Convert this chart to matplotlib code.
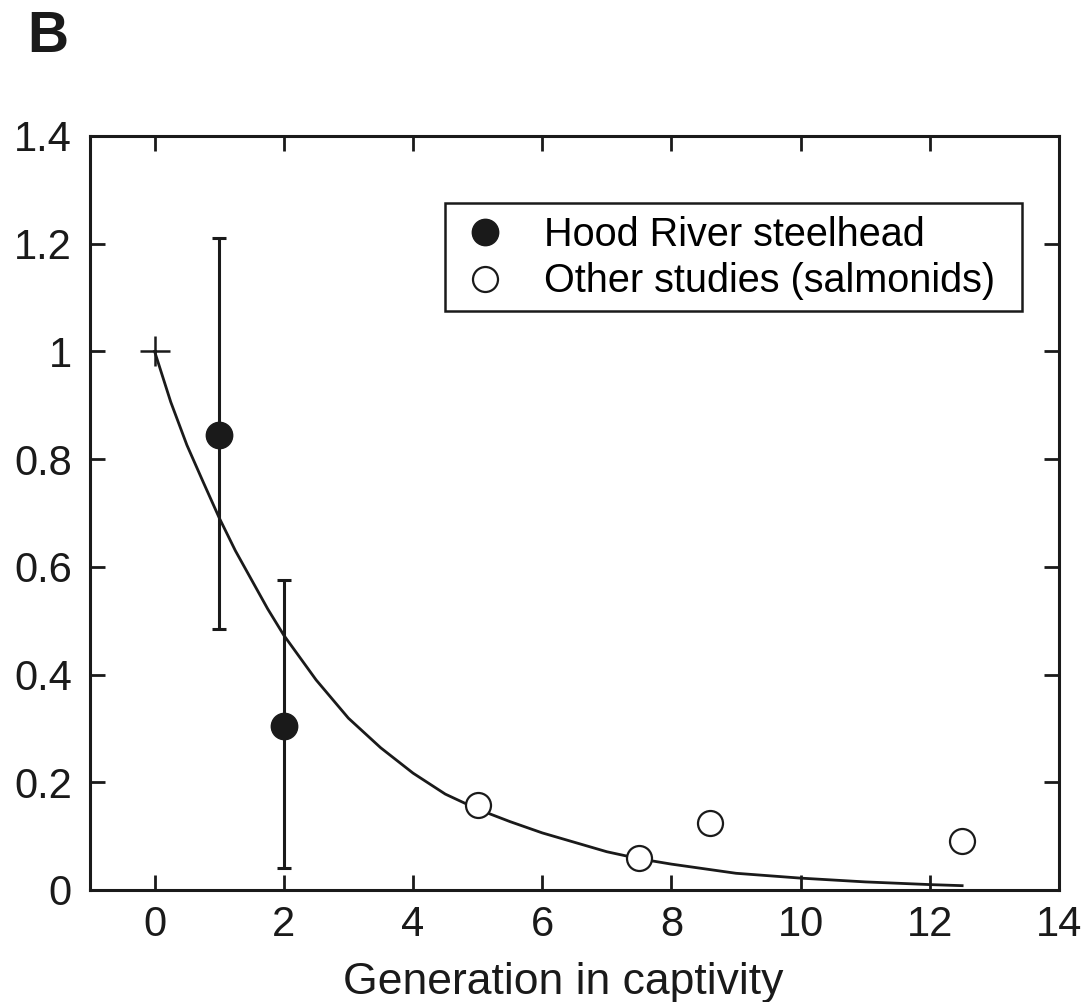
import matplotlib
matplotlib.use("Agg")
import matplotlib.pyplot as plt
from matplotlib.patches import Rectangle

plt.rcParams['font.family'] = ['Liberation Sans', 'DejaVu Sans']

# fitted decline curve
curve_x = [0, 0.25, 0.5, 0.75, 1, 1.25, 1.5, 1.75, 2, 2.5, 3, 3.5, 4, 4.5, 5,
           5.5, 6, 7, 7.5, 8, 9, 10, 11, 12, 12.5]
curve_y = [1.0, 0.906, 0.826, 0.758, 0.691, 0.630, 0.576, 0.522, 0.473, 0.39,
           0.319, 0.264, 0.217, 0.178, 0.150, 0.127, 0.106, 0.071, 0.058,
           0.048, 0.031, 0.022, 0.015, 0.010, 0.008]

# Hood River steelhead with error bars
hood_x = [1, 2]
hood_y = [0.845, 0.305]
hood_lo = [0.485, 0.04]
hood_hi = [1.21, 0.575]

# other studies (salmonids)
other_x = [5, 7.5, 8.6, 12.5]
other_y = [0.158, 0.059, 0.124, 0.091]

xticks = [0, 2, 4, 6, 8, 10, 12, 14]
yticks = [0, 0.2, 0.4, 0.6, 0.8, 1.0, 1.2, 1.4]
ytick_labels = ["0", "0.2", "0.4", "0.6", "0.8", "1", "1.2", "1.4"]

fig = plt.figure(figsize=(10.91, 10.02), dpi=100)
ax = fig.add_axes([0.0825, 0.1118, 0.8882, 0.7525])

ax.plot(curve_x, curve_y, color='#1a1a1a', lw=2.0, zorder=2)
ax.plot([0], [1.0], marker='+', ms=22, mew=1.8, color='#1a1a1a', zorder=3)

yerr = [[y - lo for y, lo in zip(hood_y, hood_lo)],
        [hi - y for y, hi in zip(hood_y, hood_hi)]]
ax.errorbar(hood_x, hood_y, yerr=yerr, fmt='none', ecolor='#1a1a1a',
            elinewidth=2.2, capsize=5, capthick=2.2, zorder=3)
ax.plot(hood_x, hood_y, 'o', ms=19, color='#1a1a1a', mec='#1a1a1a',
        ls='none', zorder=4, label='Hood River steelhead')
ax.plot(other_x, other_y, 'o', ms=18, mfc='white', mec='#1a1a1a', mew=1.6,
        ls='none', zorder=4, label='Other studies (salmonids)')

ax.set_xlim(-1, 14)
ax.set_ylim(0, 1.4)
ax.set_xticks(xticks)
ax.set_xticklabels([str(t) for t in xticks])
ax.set_yticks(yticks)
ax.set_yticklabels(ytick_labels)
ax.tick_params(direction='in', length=11, width=2.0, labelsize=30,
               top=True, right=True, colors='#1a1a1a', labelcolor='#1a1a1a')
ax.tick_params(axis='y', pad=13)
ax.tick_params(axis='x', pad=11)
for s in ax.spines.values():
    s.set_linewidth(2.2)
    s.set_color('#1a1a1a')

ax.set_xlabel("Generation in captivity", fontsize=32, color='#1a1a1a', labelpad=12,
              x=0.488)

# legend box drawn separately so its padding can differ horizontally/vertically
ax.add_patch(Rectangle((0.3664, 0.768), 0.5954, 0.143, transform=ax.transAxes,
                       fill=True, facecolor='white', edgecolor='#1a1a1a',
                       lw=1.8, zorder=5))
leg = ax.legend(loc='upper left', bbox_to_anchor=(0.366, 0.911), borderaxespad=0,
                fontsize=28.5, frameon=False, handletextpad=0.8, borderpad=0.32,
                labelspacing=0.22, handlelength=1.4)
leg.set_zorder(6)

fig.text(0.025, 0.948, "B", fontsize=41, fontweight='bold', color='#1a1a1a')

fig.savefig("out.png", dpi=100)
